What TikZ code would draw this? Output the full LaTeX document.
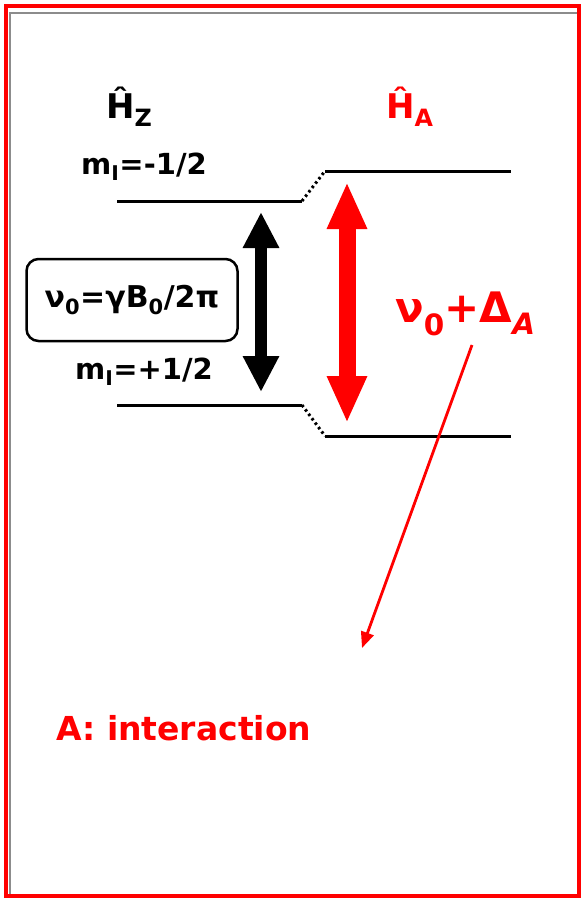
\documentclass[tikz,border=0pt]{standalone}
\usepackage{fontspec}
\setmainfont{DejaVu Sans}
\usepackage{tikz}
\usetikzlibrary{arrows.meta,positioning}
\definecolor{hamRed}{RGB}{255,0,0}
\definecolor{frameGray}{RGB}{140,140,140}

\begin{document}
\begin{tikzpicture}[x=1pt,y=-1pt,
  level/.style={line width=3pt},
  shiftline/.style={line width=3pt, dash pattern=on 2.5pt off 3pt},
  lvlabel/.style={font=\bfseries\fontsize{29}{32}\selectfont, inner sep=0pt},
  hamlabel/.style={font=\bfseries\fontsize{34}{38}\selectfont, inner sep=0pt},
  fatarrow/.style={line width=#1, {Triangle[length=36pt,width=34pt]}-{Triangle[length=36pt,width=34pt]}},
  pointer/.style={hamRed, line width=2.8pt, -{Triangle[length=16pt,width=13pt]}}]
\useasboundingbox (0,0) rectangle (584,900);
% frame
\draw[frameGray, line width=2.5pt] (10,894) -- (10,13) -- (577,13);
\draw[hamRed, line width=3.5pt] (6,6) rectangle (579,896);

% energy levels
\coordinate (zup-l) at (117,201); \coordinate (zup-r) at (302,201);
\coordinate (aup-l) at (325,171); \coordinate (aup-r) at (511,171);
\coordinate (zlo-l) at (117,405); \coordinate (zlo-r) at (302,405);
\coordinate (alo-l) at (325,436); \coordinate (alo-r) at (511,436);
\draw[level] (zup-l) -- (zup-r);
\draw[level] (zlo-l) -- (zlo-r);
\draw[level] (aup-l) -- (aup-r);
\draw[level] (alo-l) -- (alo-r);
\draw[shiftline] (zup-r) -- (aup-l);
\draw[shiftline] (zlo-r) -- (alo-l);

% hamiltonians
\node[hamlabel, anchor=base west] (hz) at (106,118) {Ĥ\textsubscript{Z}};
\node[hamlabel, anchor=base west, text=hamRed] (ha) at (386,118) {Ĥ\textsubscript{A}};

\node[lvlabel] (mdown) at (144,167) {m\textsubscript{I}=-1/2};
\node[lvlabel] (mup) at (144,372) {m\textsubscript{I}=+1/2};

\node[draw, line width=2.5pt, rounded corners=12pt, minimum width=211pt, minimum height=82pt,
  font=\bfseries\fontsize{30}{33}\selectfont] (larmor) at (132,300) {ν\textsubscript{0}=γB\textsubscript{0}/2π};

% transitions
\coordinate (zt-top) at (261,212); \coordinate (zt-bot) at (261,392);
\coordinate (at-top) at (347,182); \coordinate (at-bot) at (347,423);
\draw[fatarrow=12pt] (zt-top) -- (zt-bot);
\draw[fatarrow=17pt, hamRed, {Triangle[length=47pt,width=37pt]}-{Triangle[length=47pt,width=37pt]}] (at-top) -- (at-bot);

\node[anchor=base west, text=hamRed, inner sep=0pt, font=\bfseries\fontsize{42}{46}\selectfont] (shifted) at (395,322)
  {ν\textsubscript{0}+Δ\textsubscript{\itshape A}};

\coordinate (ptr-end) at (362,648);
\draw[pointer] (472,345) -- (ptr-end);

\node[anchor=base west, text=hamRed, inner sep=0pt, font=\bfseries\fontsize{33}{36}\selectfont] (note) at (56,740)
  {A: interaction};
\end{tikzpicture}
\end{document}
